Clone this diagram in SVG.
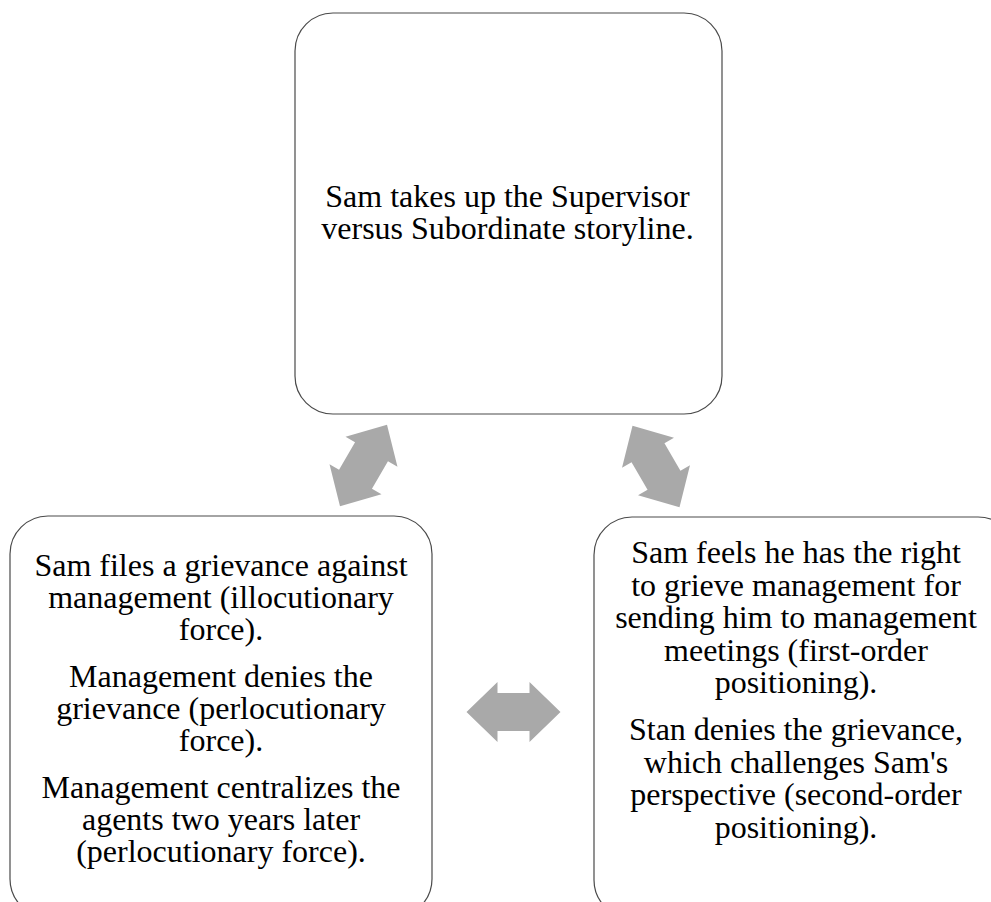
<svg xmlns="http://www.w3.org/2000/svg" width="991" height="902" viewBox="0 0 991 902">
<defs>
<style>
.box{fill:#ffffff;stroke:#4a4a4a;stroke-width:1.2}
.t{font-family:"Liberation Serif","Times New Roman",serif;font-size:32px;fill:#000;text-anchor:middle}
.arr{fill:#a9a9a9;stroke:none}
</style>
<polygon id="dbl" points="-47,0 -16,-30 -16,-19 16,-19 16,-30 47,0 16,30 16,19 -16,19 -16,30"/>
</defs>
<rect width="991" height="902" fill="#ffffff"/>
<g id="connectors">
<use href="#dbl" class="arr" transform="translate(363.5,465.5) rotate(-60)"/>
<use href="#dbl" class="arr" transform="translate(656,466.5) rotate(60)"/>
<use href="#dbl" class="arr" transform="translate(513.5,712)"/>
</g>
<g id="node-top">
<rect class="box" x="295" y="13" width="427" height="401" rx="38" ry="38"/>
<text class="t" x="507.5" y="207">Sam takes up the Supervisor</text>
<text class="t" x="507.5" y="239">versus Subordinate storyline.</text>
</g>
<g id="node-left">
<rect class="box" x="10" y="516" width="422" height="401" rx="38" ry="38"/>
<text class="t" x="221" y="576">Sam files a grievance against</text>
<text class="t" x="221" y="608">management (illocutionary</text>
<text class="t" x="221" y="640">force).</text>
<text class="t" x="221" y="687">Management denies the</text>
<text class="t" x="221" y="719">grievance (perlocutionary</text>
<text class="t" x="221" y="751">force).</text>
<text class="t" x="221" y="798">Management centralizes the</text>
<text class="t" x="221" y="830">agents two years later</text>
<text class="t" x="221" y="862">(perlocutionary force).</text>
</g>
<g id="node-right">
<rect class="box" x="594" y="517" width="422" height="401" rx="38" ry="38"/>
<text class="t" x="796" y="563">Sam feels he has the right</text>
<text class="t" x="796" y="595.5">to grieve management for</text>
<text class="t" x="796" y="628">sending him to management</text>
<text class="t" x="796" y="660.5">meetings (first-order</text>
<text class="t" x="796" y="693">positioning).</text>
<text class="t" x="796" y="740">Stan denies the grievance,</text>
<text class="t" x="796" y="772.5">which challenges Sam's</text>
<text class="t" x="796" y="805">perspective (second-order</text>
<text class="t" x="796" y="837.5">positioning).</text>
</g>
</svg>
